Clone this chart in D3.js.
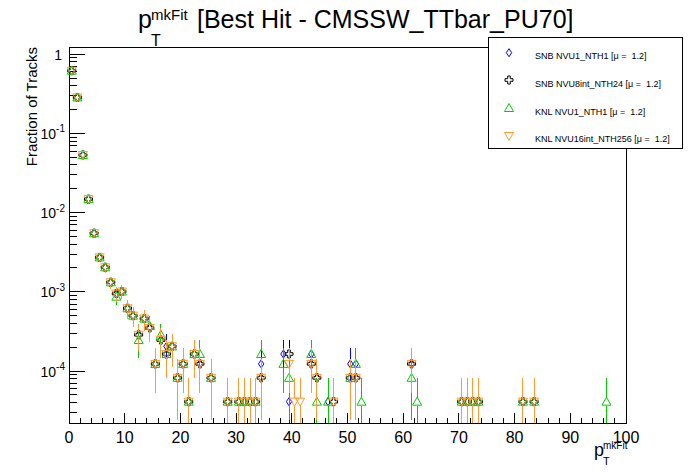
<!DOCTYPE html>
<html>
<head>
<meta charset="utf-8">
<script src="https://cdn.jsdelivr.net/npm/d3@7/dist/d3.min.js"></script>
<style>
  html, body { margin: 0; padding: 0; background: #fff; }
  svg { display: block; font-family: "Liberation Sans", Arial, Helvetica, sans-serif; }
  text { white-space: pre; }
</style>
</head>
<body>
<svg id="chart" width="696" height="472"></svg>
<script>
// ---------------- data ----------------
const binCenters = [0.5,1.5,2.5,3.5,4.5,5.5,6.5,7.5,8.5,9.5,10.5,11.5,12.5,13.5,14.5,15.5,16.5,17.5,18.5,19.5,20.5,21.5,22.5,23.5,25.5,28.5,30.5,31.5,32.5,33.5,34.5,38.5,39.5,40.5,41.5,43.5,44.5,46.5,47.5,50.5,51.5,52.5,61.5,62.5,70.5,71.5,72.5,73.5,81.5,83.5,96.5];

const seriesNames = [
  "SNB NVU1_NTH1 [\u03bc =  1.2]",
  "SNB NVU8int_NTH24 [\u03bc =  1.2]",
  "KNL NVU1_NTH1 [\u03bc =  1.2]",
  "KNL NVU16int_NTH256 [\u03bc =  1.2]"
];

const snbNvu1 = [0.62,0.285,0.0535,0.0148,0.0055,0.00272,0.00204,0.00132,0.00095,0.00101,0.00062,0.0005,
  2.87e-4,4.6e-4,3.5e-4,1.23e-4,2.46e-4,2.05e-4,2.05e-4,8.2e-5,1.23e-4,4.1e-5,1.64e-4,1.23e-4,8.2e-5,4.1e-5,
  4.1e-5,4.1e-5,4.1e-5,4.1e-5,1.23e-4,1.64e-4,4.1e-5,null,null,1.64e-4,8.2e-5,4.1e-5,null,1.23e-4,1.23e-4,null,
  1.23e-4,null,4.1e-5,4.1e-5,4.1e-5,4.1e-5,4.1e-5,4.1e-5,null];
const snbNvu1Err = [0.005,0.0034,0.0015,0.00078,0.00047,0.00033,0.00029,0.00023,0.0002,0.000205,0.00016,0.000142,
  1.08e-4,1.36e-4,1.2e-4,7.1e-5,1.0e-4,9.2e-5,9.2e-5,5.8e-5,7.1e-5,4.1e-5,8.2e-5,7.1e-5,5.8e-5,4.1e-5,
  4.1e-5,4.1e-5,4.1e-5,4.1e-5,7.1e-5,8.2e-5,4.1e-5,null,null,8.2e-5,5.8e-5,4.1e-5,null,7.1e-5,7.1e-5,null,
  7.1e-5,null,4.1e-5,4.1e-5,4.1e-5,4.1e-5,4.1e-5,4.1e-5,null];

const snbNvu8 = [0.62,0.285,0.0535,0.0148,0.0055,0.00272,0.00204,0.00132,0.00095,0.00101,0.00062,0.0005,
  2.87e-4,4.6e-4,3.5e-4,1.23e-4,2.46e-4,1.64e-4,2.05e-4,8.2e-5,1.23e-4,4.1e-5,1.64e-4,1.23e-4,8.2e-5,4.1e-5,
  4.1e-5,4.1e-5,4.1e-5,4.1e-5,8.2e-5,null,1.64e-4,null,null,1.23e-4,8.2e-5,null,4.1e-5,8.2e-5,8.2e-5,null,
  1.23e-4,null,4.1e-5,4.1e-5,4.1e-5,4.1e-5,4.1e-5,4.1e-5,null];
const snbNvu8Err = [0.005,0.0034,0.0015,0.00078,0.00047,0.00033,0.00029,0.00023,0.0002,0.000205,0.00016,0.000142,
  1.08e-4,1.36e-4,1.2e-4,7.1e-5,1.0e-4,8.2e-5,9.2e-5,5.8e-5,7.1e-5,4.1e-5,8.2e-5,7.1e-5,5.8e-5,4.1e-5,
  4.1e-5,4.1e-5,4.1e-5,4.1e-5,5.8e-5,null,8.2e-5,null,null,7.1e-5,5.8e-5,null,4.1e-5,5.8e-5,5.8e-5,null,
  7.1e-5,null,4.1e-5,4.1e-5,4.1e-5,4.1e-5,4.1e-5,4.1e-5,null];

const knlNvu1 = [0.62,0.285,0.0535,0.0148,0.0055,0.00272,0.00204,0.00132,0.00087,0.00101,0.00062,0.0005,
  2.46e-4,4.6e-4,3.7e-4,1.23e-4,2.87e-4,1.64e-4,2.05e-4,8.2e-5,1.23e-4,4.1e-5,1.64e-4,1.64e-4,8.2e-5,4.1e-5,
  4.1e-5,4.1e-5,4.1e-5,4.1e-5,1.64e-4,1.23e-4,8.2e-5,null,null,1.64e-4,4.1e-5,4.1e-5,null,8.2e-5,1.23e-4,4.1e-5,
  8.2e-5,4.1e-5,4.1e-5,4.1e-5,4.1e-5,4.1e-5,4.1e-5,4.1e-5,4.1e-5];
const knlNvu1Err = [0.005,0.0034,0.0015,0.00078,0.00047,0.00033,0.00029,0.00023,0.00019,0.000205,0.00016,0.000142,
  1.0e-4,1.36e-4,1.23e-4,7.1e-5,1.08e-4,8.2e-5,9.2e-5,5.8e-5,7.1e-5,4.1e-5,8.2e-5,8.2e-5,5.8e-5,4.1e-5,
  4.1e-5,4.1e-5,4.1e-5,4.1e-5,8.2e-5,7.1e-5,5.8e-5,null,null,8.2e-5,4.1e-5,4.1e-5,null,5.8e-5,7.1e-5,4.1e-5,
  5.8e-5,4.1e-5,4.1e-5,4.1e-5,4.1e-5,4.1e-5,4.1e-5,4.1e-5,4.1e-5];

const knlNvu16 = [0.62,0.285,0.0535,0.0148,0.0055,0.00272,0.00204,0.00132,0.00095,0.00101,0.00062,0.0005,
  2.87e-4,4.6e-4,3.5e-4,1.23e-4,2.46e-4,1.64e-4,2.05e-4,8.2e-5,1.23e-4,4.1e-5,1.64e-4,1.23e-4,8.2e-5,4.1e-5,
  4.1e-5,4.1e-5,4.1e-5,4.1e-5,8.2e-5,null,1.23e-4,4.1e-5,4.1e-5,1.23e-4,8.2e-5,null,4.1e-5,8.2e-5,8.2e-5,null,
  1.23e-4,null,4.1e-5,4.1e-5,4.1e-5,4.1e-5,4.1e-5,4.1e-5,null];
const knlNvu16Err = [0.005,0.0034,0.0015,0.00078,0.00047,0.00033,0.00029,0.00023,0.0002,0.000205,0.00016,0.000142,
  1.08e-4,1.36e-4,1.2e-4,7.1e-5,1.0e-4,8.2e-5,9.2e-5,5.8e-5,7.1e-5,4.1e-5,8.2e-5,7.1e-5,5.8e-5,4.1e-5,
  4.1e-5,4.1e-5,4.1e-5,4.1e-5,5.8e-5,null,7.1e-5,4.1e-5,4.1e-5,7.1e-5,5.8e-5,null,4.1e-5,5.8e-5,5.8e-5,null,
  7.1e-5,null,4.1e-5,4.1e-5,4.1e-5,4.1e-5,4.1e-5,4.1e-5,null];

const xTickValues = [0,10,20,30,40,50,60,70,80,90,100];
const yTickExponents = [0,-1,-2,-3,-4];

// ---------------- layout ----------------
const svg = d3.select("#chart");
const W = 696, H = 472;
const frame = { left: 69, right: 626, top: 47, bottom: 423 };

svg.append("rect").attr("width", W).attr("height", H).attr("fill", "#fff");

const x = d3.scaleLinear().domain([0, 100]).range([frame.left, frame.right]);
const y = d3.scaleLog().domain([2.205e-5, 1.236]).range([frame.bottom, frame.top]);

const series = [
  { name: seriesNames[0], values: snbNvu1,  errors: snbNvu1Err,  color: "#0000ff", shape: "diamond" },
  { name: seriesNames[1], values: snbNvu8,  errors: snbNvu8Err,  color: "#000000", shape: "cross" },
  { name: seriesNames[2], values: knlNvu1,  errors: knlNvu1Err,  color: "#00cc00", shape: "triUp" },
  { name: seriesNames[3], values: knlNvu16, errors: knlNvu16Err, color: "#ff9933", shape: "triDown" }
];

function markerPath(shape) {
  switch (shape) {
    case "diamond": return "M0,-4L2.7,0L0,4L-2.7,0Z";
    case "cross": return "M-1.3,-4H1.3V-1.3H4V1.3H1.3V4H-1.3V1.3H-4V-1.3H-1.3Z";
    case "triUp": return "M0,-4.5L4.5,3.5H-4.5Z";
    case "triDown": return "M0,4.5L4.5,-3.5H-4.5Z";
  }
}

// ---------------- axes ----------------
const axes = svg.append("g").attr("shape-rendering", "crispEdges");

const xMinor = d3.range(0, 101, 2).filter(v => v % 10 !== 0);
axes.selectAll(".xmaj").data(xTickValues).join("line")
  .attr("x1", d => x(d)).attr("x2", d => x(d))
  .attr("y1", frame.bottom).attr("y2", frame.bottom - 10)
  .attr("stroke", "#000");
axes.selectAll(".xmin").data(xMinor).join("line")
  .attr("x1", d => x(d)).attr("x2", d => x(d))
  .attr("y1", frame.bottom).attr("y2", frame.bottom - 5)
  .attr("stroke", "#000");

const yMinor = [];
for (let e = -5; e <= 0; e++) for (let k = 2; k <= 9; k++) {
  const v = k * Math.pow(10, e);
  if (v >= y.domain()[0] && v <= y.domain()[1]) yMinor.push(v);
}
const yMajor = yTickExponents.map(e => Math.pow(10, e));
axes.selectAll(".ymaj").data(yMajor).join("line")
  .attr("x1", frame.left).attr("x2", frame.left + 16)
  .attr("y1", d => y(d)).attr("y2", d => y(d))
  .attr("stroke", "#000");
axes.selectAll(".ymin").data(yMinor).join("line")
  .attr("x1", frame.left).attr("x2", frame.left + 8)
  .attr("y1", d => y(d)).attr("y2", d => y(d))
  .attr("stroke", "#000");

axes.append("rect")
  .attr("x", frame.left).attr("y", frame.top)
  .attr("width", frame.right - frame.left).attr("height", frame.bottom - frame.top)
  .attr("fill", "none").attr("stroke", "#000");

// x tick labels
svg.selectAll(".xlab").data(xTickValues).join("text")
  .attr("x", d => x(d)).attr("y", 443)
  .attr("text-anchor", "middle").attr("font-size", 16)
  .text(d => d);

// y tick labels
yTickExponents.forEach(e => {
  const t = svg.append("text")
    .attr("x", e === 0 ? 62 : 65)
    .attr("y", y(Math.pow(10, e)) + 5.5)
    .attr("text-anchor", "end").attr("font-size", 14);
  if (e === 0) { t.text("1"); }
  else {
    t.append("tspan").text("10");
    t.append("tspan").attr("dy", -6.5).attr("font-size", 10).text(String(e));
  }
});

// y axis title
svg.append("text")
  .attr("transform", `translate(36.5,${frame.top}) rotate(-90)`)
  .attr("text-anchor", "end").attr("font-size", 15)
  .text("Fraction of Tracks");

// x axis title p_T^{mkFit}
svg.append("text").attr("x", 594).attr("y", 456).attr("font-size", 18).text("p");
svg.append("text").attr("x", 603).attr("y", 449).attr("font-size", 10).text("mkFit");
svg.append("text").attr("x", 603).attr("y", 465).attr("font-size", 11).text("T");

// title
svg.append("text").attr("x", 138).attr("y", 28).attr("font-size", 25).text("p");
svg.append("text").attr("x", 151).attr("y", 20).attr("font-size", 15).text("mkFit");
svg.append("text").attr("x", 151).attr("y", 46).attr("font-size", 16).text("T");
svg.append("text").attr("x", 197).attr("y", 28).attr("font-size", 25).text("[Best Hit - CMSSW_TTbar_PU70]");

// ---------------- data marks ----------------
const gap = 4;
const plot = svg.append("g");
series.forEach(s => {
  const pts = binCenters.map((b, i) => ({ b, v: s.values[i], e: s.errors[i] })).filter(d => d.v != null);
  const g = plot.append("g");
  pts.forEach(d => {
    const cx = x(d.b), cy = y(d.v);
    const yHi = y(d.v + d.e);
    const yLo = (d.v - d.e) > y.domain()[0] ? y(d.v - d.e) : frame.bottom;
    if (cy - gap > yHi) {
      g.append("line").attr("x1", cx).attr("x2", cx).attr("y1", yHi).attr("y2", cy - gap)
        .attr("stroke", s.color).attr("shape-rendering", "crispEdges");
    }
    if (yLo > cy + gap) {
      g.append("line").attr("x1", cx).attr("x2", cx).attr("y1", cy + gap).attr("y2", yLo)
        .attr("stroke", s.color).attr("shape-rendering", "crispEdges");
    }
  });
  g.selectAll("path").data(pts).join("path")
    .attr("d", markerPath(s.shape))
    .attr("transform", d => `translate(${x(d.b)},${y(d.v)})`)
    .attr("fill", "none").attr("stroke", s.color).attr("stroke-width", 1);
});

// ---------------- legend ----------------
const leg = svg.append("g");
leg.append("rect").attr("x", 488).attr("y", 37).attr("width", 194).attr("height", 111)
  .attr("fill", "#fff").attr("stroke", "#000").attr("shape-rendering", "crispEdges");
const rowMarkerY = [52.7, 80, 108, 136];
const rowTextY = [59, 87, 114.5, 142];
series.forEach((s, i) => {
  leg.append("path").attr("d", markerPath(s.shape))
    .attr("transform", `translate(509,${rowMarkerY[i]})`)
    .attr("fill", "none").attr("stroke", s.color);
  leg.append("text").attr("x", 535).attr("y", rowTextY[i]).attr("font-size", 9).text(s.name);
});
</script>
</body>
</html>
